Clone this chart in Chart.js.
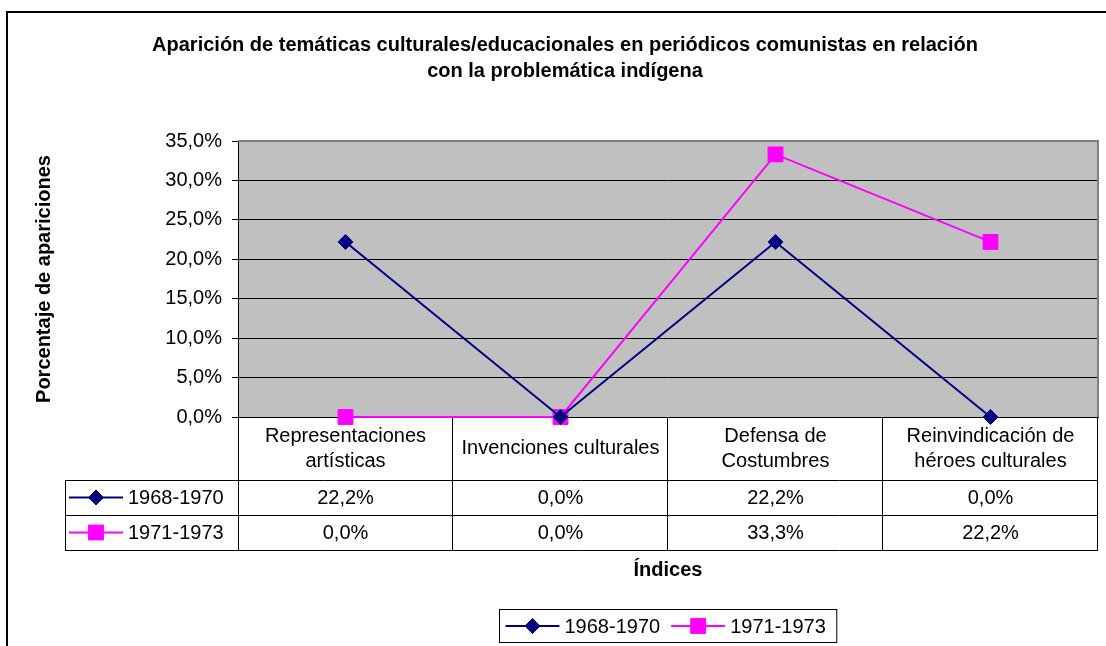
<!DOCTYPE html>
<html>
<head>
<meta charset="utf-8">
<script src="https://cdn.jsdelivr.net/npm/chart.js@4"></script>
<style>
  html, body { margin: 0; padding: 0; overflow: hidden; background: #fff; }
  #wrap { width: 1130px; height: 646px; }
</style>
</head>
<body>
<div id="wrap"><canvas id="chart" width="1130" height="646"></canvas></div>
<script>
const categories = [
  ["Representaciones", "artísticas"],
  ["Invenciones culturales"],
  ["Defensa de", "Costumbres"],
  ["Reinvindicación de", "héroes culturales"]
];
const seriesNames = ["1968-1970", "1971-1973"];
const values1968 = [22.2, 0.0, 22.2, 0.0];
const values1971 = [0.0, 0.0, 33.3, 22.2];
const yMax = 35;
const yStep = 5;

const FONT = '"Liberation Sans", Arial, sans-serif';
const fmt = v => v.toFixed(1).replace(".", ",") + "%";

Chart.defaults.font.family = FONT;
Chart.defaults.font.size = 20;
Chart.defaults.color = "#000";

// draws a legend key: short line with the series marker in the middle
function drawKey(ctx, ds, x, y) {
  ctx.save();
  ctx.strokeStyle = ds.borderColor;
  ctx.lineWidth = 2;
  ctx.beginPath();
  ctx.moveTo(x, y);
  ctx.lineTo(x + 54, y);
  ctx.stroke();
  ctx.fillStyle = ds.backgroundColor;
  ctx.lineWidth = 1;
  Chart.helpers.drawPoint(ctx, {
    pointStyle: ds.pointStyle, radius: ds.pointRadius, borderWidth: 1, rotation: 0
  }, x + 27, y);
  ctx.restore();
}

const tablePlugin = {
  id: "dataTable",
  beforeDraw(chart) {
    const { ctx, chartArea: a } = chart;
    ctx.save();
    ctx.strokeStyle = "#000";
    ctx.lineWidth = 2;
    ctx.beginPath();
    ctx.moveTo(7, chart.height);
    ctx.lineTo(7, 12);
    ctx.lineTo(chart.width, 12);
    ctx.stroke();
    ctx.fillStyle = "#c0c0c0";
    ctx.fillRect(a.left, a.top, a.right - a.left, a.bottom - a.top);
    ctx.restore();
  },
  beforeDatasetsDraw(chart) {
    const { ctx, chartArea: a } = chart;
    const xs = chart.scales.x;
    const half = (xs.getPixelForValue(1) - xs.getPixelForValue(0)) / 2;
    const top = a.bottom;
    const headH = 63, rowH = 35;
    const keyLeft = 65;
    const bottom = top + headH + rowH * 2;

    ctx.save();
    // plot frame (top and right), grey
    ctx.strokeStyle = "#808080";
    ctx.lineWidth = 2;
    ctx.beginPath();
    ctx.moveTo(a.left, a.top);
    ctx.lineTo(a.right, a.top);
    ctx.lineTo(a.right, a.bottom);
    ctx.stroke();

    // table grid
    ctx.strokeStyle = "#000";
    ctx.lineWidth = 1;
    ctx.beginPath();
    for (let r = 1; r <= 3; r++) {
      const y = Math.round(top + headH + rowH * (r - 1)) + 0.5;
      ctx.moveTo(keyLeft, y);
      ctx.lineTo(a.right, y);
    }
    ctx.moveTo(keyLeft + 0.5, top + headH);
    ctx.lineTo(keyLeft + 0.5, bottom);
    ctx.moveTo(a.left + 0.5, top);
    ctx.lineTo(a.left + 0.5, bottom);
    categories.forEach((c, i) => {
      const xr = Math.round(xs.getPixelForValue(i) + half) - 0.5;
      ctx.moveTo(xr, top);
      ctx.lineTo(xr, bottom);
    });
    ctx.stroke();

    // header labels and values
    ctx.fillStyle = "#000";
    ctx.font = "20px " + FONT;
    ctx.textAlign = "center";
    ctx.textBaseline = "middle";
    categories.forEach((lines, i) => {
      const cx = xs.getPixelForValue(i);
      const cy = top + headH / 2;
      lines.forEach((t, k) => {
        ctx.fillText(t, cx, cy + (k - (lines.length - 1) / 2) * 25);
      });
      chart.data.datasets.forEach((ds, r) => {
        ctx.fillText(fmt(ds.data[i]), cx, top + headH + rowH * r + rowH / 2 + 1);
      });
    });

    // legend keys inside table
    ctx.textAlign = "left";
    chart.data.datasets.forEach((ds, r) => {
      const cy = top + headH + rowH * r + rowH / 2;
      drawKey(ctx, ds, keyLeft + 4, cy);
      ctx.fillStyle = "#000";
      ctx.fillText(ds.label, keyLeft + 63, cy + 1);
    });

    // axis title under table
    ctx.font = "bold 20px " + FONT;
    ctx.textAlign = "center";
    ctx.fillText("Índices", (a.left + a.right) / 2, bottom + 20);
    ctx.restore();
  },
  afterDraw(chart) {
    const { ctx, chartArea: a } = chart;
    const sets = chart.data.datasets;
    ctx.save();
    ctx.font = "20px " + FONT;
    const widths = sets.map(ds => ctx.measureText(ds.label).width);
    const boxW = 6 + widths.reduce((s, w) => s + 59 + w, 0) + 11 * sets.length;
    const boxH = 33;
    const bx = Math.round((a.left + a.right) / 2 - boxW / 2) + 0.5;
    const by = 609.5;
    ctx.strokeStyle = "#000";
    ctx.lineWidth = 1;
    ctx.strokeRect(bx, by, boxW, boxH);
    let x = bx + 6;
    const cy = by + boxH / 2;
    ctx.textBaseline = "middle";
    ctx.textAlign = "left";
    sets.forEach((ds, i) => {
      drawKey(ctx, ds, x, cy);
      ctx.fillStyle = "#000";
      ctx.fillText(ds.label, x + 59, cy + 1);
      x += 59 + widths[i] + 11;
    });
    ctx.restore();
  }
};

new Chart(document.getElementById("chart"), {
  type: "line",
  data: {
    labels: categories,
    datasets: [
      {
        label: seriesNames[0],
        data: values1968,
        borderColor: "#000080",
        backgroundColor: "#000080",
        borderWidth: 2,
        pointStyle: "rectRot",
        pointRadius: 7.5,
        pointBorderWidth: 1,
        clip: false
      },
      {
        label: seriesNames[1],
        data: values1971,
        borderColor: "#ff00ff",
        backgroundColor: "#ff00ff",
        borderWidth: 2,
        pointStyle: "rect",
        pointRadius: 10.5,
        pointBorderWidth: 1,
        clip: false
      }
    ]
  },
  options: {
    responsive: false,
    animation: false,
    events: [],
    layout: { padding: { left: 32, right: 32, top: 0, bottom: 0 } },
    plugins: {
      legend: { display: false },
      tooltip: { enabled: false },
      title: {
        display: true,
        text: [
          "Aparición de temáticas culturales/educacionales en periódicos comunistas en relación",
          "con la problemática indígena"
        ],
        font: { size: 20, weight: "bold", lineHeight: 1.3 },
        color: "#000",
        padding: { top: 32, bottom: 57 }
      }
    },
    scales: {
      x: {
        offset: true,
        grid: { display: false },
        border: { display: true, color: "#000", width: 1 },
        ticks: { display: false },
        afterFit(scale) { scale.height = 229; }
      },
      y: {
        min: 0,
        max: yMax,
        ticks: { stepSize: yStep, padding: 10, callback: v => fmt(v), font: { size: 20 } },
        grid: { color: "#000", lineWidth: 1, tickLength: 6, tickColor: "#000" },
        border: { display: true, color: "#000", width: 1 },
        title: {
          display: true,
          text: "Porcentaje de apariciones",
          font: { size: 20, weight: "bold" },
          padding: { top: 0, bottom: 0 }
        },
        afterFit(scale) { scale.width = 206; }
      }
    }
  },
  plugins: [tablePlugin]
});
</script>
</body>
</html>
